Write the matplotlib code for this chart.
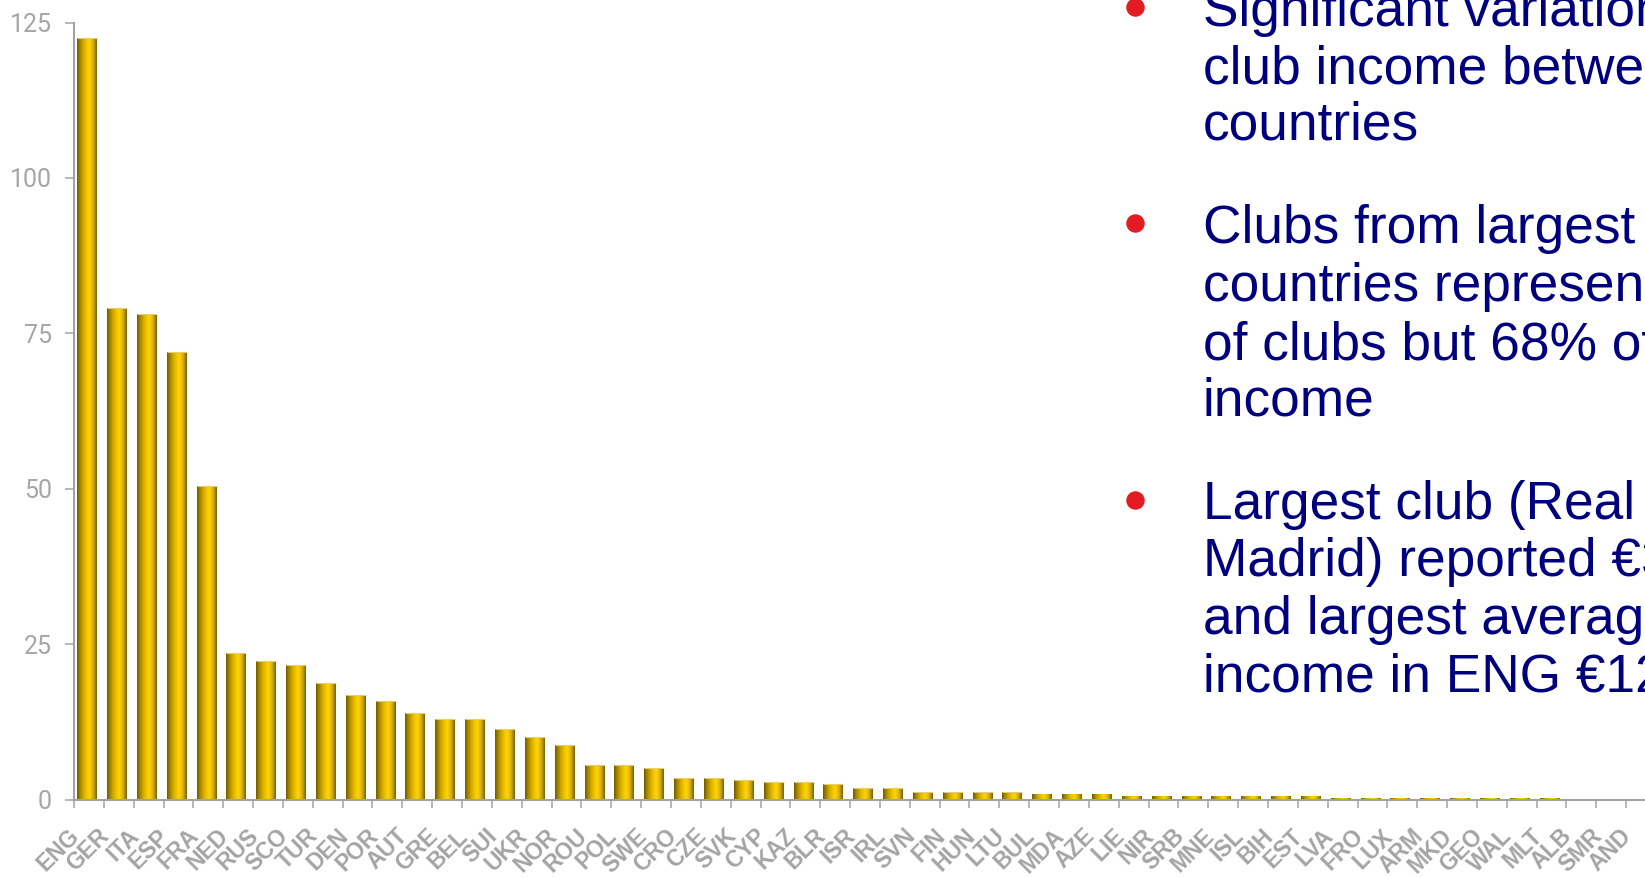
import matplotlib
matplotlib.use("Agg")
import matplotlib.pyplot as plt
import numpy as np
from matplotlib.colors import LinearSegmentedColormap
from matplotlib.lines import Line2D
from matplotlib.transforms import ScaledTranslation

# Average club income by country (EUR million)
countries = ["ENG", "GER", "ITA", "ESP", "FRA", "NED", "RUS", "SCO", "TUR", "DEN",
             "POR", "AUT", "GRE", "BEL", "SUI", "UKR", "NOR", "ROU", "POL", "SWE",
             "CRO", "CZE", "SVK", "CYP", "KAZ", "BLR", "ISR", "IRL", "SVN", "FIN",
             "HUN", "LTU", "BUL", "MDA", "AZE", "LIE", "NIR", "SRB", "MNE", "ISL",
             "BIH", "EST", "LVA", "FRO", "LUX", "ARM", "MKD", "GEO", "WAL", "MLT",
             "ALB", "SMR", "AND"]
income = [122.5, 79.0, 78.1, 72.0, 50.4, 23.5, 22.3, 21.7, 18.8, 16.8,
          15.9, 13.9, 13.0, 13.0, 11.4, 10.1, 8.8, 5.5, 5.5, 5.1,
          3.5, 3.5, 3.2, 2.8, 2.8, 2.5, 1.9, 1.9, 1.2, 1.2,
          1.2, 1.2, 0.9, 0.9, 0.9, 0.6, 0.6, 0.6, 0.6, 0.6,
          0.6, 0.6, 0.3, 0.3, 0.3, 0.3, 0.3, 0.3, 0.3, 0.3,
          0.0, 0.0, 0.0]
y_ticks = [0, 25, 50, 75, 100, 125]

largest_club_income = 366

bullets = [
    ["Significant variation in", "club income between", "countries"],
    ["Clubs from largest 5", "countries represent 13%", "of clubs but 68% of", "income"],
    ["Largest club (Real", f"Madrid) reported €{largest_club_income}m",
     "and largest average", f"income in ENG €{income[0]:.0f}m"],
]

W, H = 1645, 877
fig = plt.figure(figsize=(W / 100, H / 100), dpi=100, facecolor="white")

# Axes runs past the right edge of the canvas
ax_left, ax_right = 74, 1656
ax_top, ax_bottom = 22.5, 799.5
ax = fig.add_axes([ax_left / W, 1 - ax_bottom / H,
                   (ax_right - ax_left) / W, (ax_bottom - ax_top) / H])

n = len(countries)
x = np.arange(n) - 0.06
bar_w = 0.67

# Cylinder-style gold shading across each bar
gold = LinearSegmentedColormap.from_list("gold", [
    (0.00, "#6f5b00"), (0.12, "#9c7f00"), (0.33, "#d6ad00"), (0.52, "#f8ca00"),
    (0.62, "#ffd400"), (0.80, "#dcb200"), (0.92, "#a28400"), (1.00, "#786200")])
grad = np.linspace(0, 1, 64).reshape(1, -1)

bars = ax.bar(x, income, width=bar_w, color="#d2aa00", edgecolor="none", zorder=2)
for rect in bars:
    h = rect.get_height()
    if h <= 0:
        continue
    x0 = rect.get_x()
    ax.imshow(grad, extent=[x0, x0 + rect.get_width(), 0, h], aspect="auto",
              cmap=gold, interpolation="bilinear", zorder=2.5)
    if h >= 1:
        ax.plot([x0, x0 + rect.get_width()], [h, h], color="#e4cf70", lw=0.8,
                solid_capstyle="butt", zorder=3)

ax.set_xlim(-0.5, n - 0.5)
ax.set_ylim(0, 125)

axis_grey = "#a3a3a3"
for side in ("top", "right"):
    ax.spines[side].set_visible(False)
for side in ("left", "bottom"):
    ax.spines[side].set_color(axis_grey)
    ax.spines[side].set_linewidth(1.5)
    ax.spines[side].set_zorder(4)

ax.set_yticks(y_ticks)
ax.set_yticklabels([str(v) for v in y_ticks], color="#a6a6a6", fontsize=18,
                   family=["Roboto", "DejaVu Sans"])
ax.tick_params(axis="y", length=6.5, width=1.1, color=axis_grey, pad=9.5)

# Ticks between categories, labels under each bar
ax.set_xticks(np.arange(n + 1) - 0.5)
ax.set_xticklabels([])
ax.tick_params(axis="x", which="major", length=5.8, width=1.1, color=axis_grey)
ax.set_xticks(np.arange(n), minor=True)
ax.set_xticklabels(countries, minor=True, rotation=45, ha="right", va="top",
                   rotation_mode="anchor", color="#a4a4a4", fontsize=16.5,
                   fontweight="bold", family=["Liberation Sans", "DejaVu Sans"])
ax.tick_params(axis="x", which="minor", length=0, pad=18)
shift = ScaledTranslation(-21 / 100, 0, fig.dpi_scale_trans)
for lab in ax.get_xticklabels(minor=True):
    lab.set_transform(lab.get_transform() + shift)

# Bullet text
text_x = 1203
bullet_x = 1135
navy = "#00007f"
baselines = [[26, 83, 140], [243, 301, 359, 416], [519, 576, 634, 691]]
for lines, ys in zip(bullets, baselines):
    fig.add_artist(Line2D([bullet_x / W], [1 - (ys[0] - 19.5) / H], marker="o",
                          markersize=12.3, color="#e31b23", linestyle="none",
                          transform=fig.transFigure))
    for line, yb in zip(lines, ys):
        fig.text(text_x / W, 1 - yb / H, line, color=navy, fontsize=38.3,
                 family=["Liberation Sans", "DejaVu Sans"], va="baseline", ha="left")

fig.savefig("out.png", dpi=100, facecolor="white")
